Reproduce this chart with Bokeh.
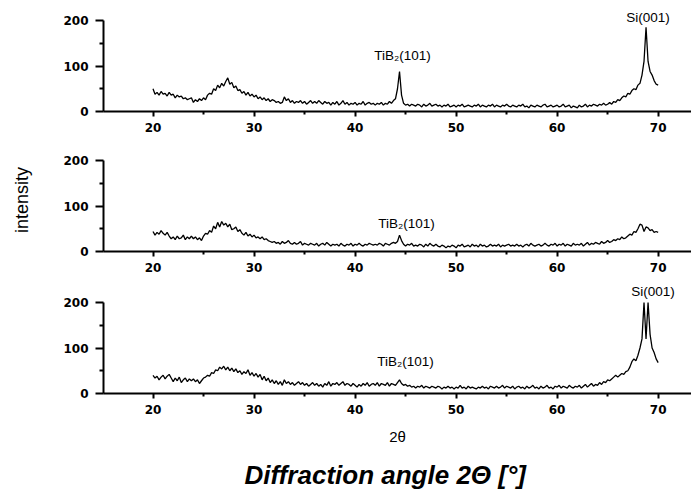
from bokeh.plotting import figure
from bokeh.models import Range1d, FixedTicker, Title
from bokeh.layouts import column
from bokeh.embed import file_html
from bokeh.resources import INLINE
from bokeh.core.properties import value

# 2-theta sampling positions (deg), 20.0 .. 70.0 in 0.2 steps
two_theta = [round(20 + 0.2 * i, 1) for i in range(251)]

# Top sample
intensity_top = [
    50, 38, 42, 36, 44, 38, 40, 34, 42, 36,
    38, 30, 36, 32, 34, 28, 30, 26, 28, 30,
    20, 26, 22, 28, 24, 30, 26, 36, 40, 38,
    50, 46, 58, 52, 62, 56, 66, 74, 60, 64,
    52, 56, 46, 48, 40, 44, 36, 42, 34, 38,
    32, 36, 28, 32, 26, 30, 24, 28, 22, 26,
    24, 20, 22, 18, 20, 32, 24, 28, 20, 24,
    18, 22, 20, 24, 18, 22, 16, 20, 24, 18,
    22, 18, 24, 20, 16, 22, 18, 20, 14, 20,
    16, 22, 14, 18, 24, 16, 20, 14, 18, 16,
    20, 14, 18, 16, 22, 14, 18, 20, 16, 18,
    14, 18, 16, 20, 14, 18, 16, 22, 18, 24,
    28, 50, 88, 36, 18, 14, 16, 12, 16, 14,
    12, 16, 14, 10, 16, 12, 14, 18, 12, 14,
    16, 12, 14, 10, 14, 12, 16, 10, 12, 14,
    10, 14, 12, 16, 10, 12, 14, 12, 10, 14,
    12, 16, 10, 14, 12, 10, 14, 12, 16, 10,
    14, 12, 10, 14, 12, 16, 12, 10, 14, 12,
    10, 14, 12, 16, 10, 12, 8, 14, 12, 10,
    14, 12, 10, 14, 16, 10, 12, 14, 10, 12,
    14, 10, 12, 16, 10, 12, 14, 8, 12, 10,
    8, 14, 10, 12, 16, 10, 14, 12, 16, 14,
    12, 16, 14, 18, 14, 16, 20, 16, 22, 20,
    26, 24, 30, 34, 32, 40, 38, 46, 50, 48,
    58, 62, 80, 110, 185, 110, 88, 80, 68, 60,
    58,
]

# Middle sample
intensity_mid = [
    44, 36, 42, 38, 46, 40, 36, 42, 34, 28,
    32, 26, 34, 28, 30, 36, 26, 32, 28, 34,
    28, 32, 26, 30, 24, 34, 40, 38, 46, 42,
    56, 50, 64, 54, 66, 58, 62, 54, 60, 48,
    50, 54, 44, 48, 40, 36, 42, 34, 38, 32,
    36, 30, 32, 28, 32, 26, 28, 24, 22, 20,
    22, 18, 20, 16, 22, 18, 20, 24, 18, 16,
    20, 16, 18, 22, 14, 18, 16, 14, 18, 16,
    14, 18, 12, 16, 18, 14, 20, 16, 12, 16,
    14, 16, 12, 18, 14, 12, 16, 14, 18, 12,
    16, 14, 18, 14, 12, 16, 14, 18, 16, 14,
    16, 14, 18, 16, 12, 18, 16, 14, 18, 20,
    18, 22, 36, 24, 16, 12, 16, 14, 18, 12,
    14, 12, 16, 14, 10, 16, 12, 18, 14, 12,
    16, 12, 10, 14, 12, 8, 12, 10, 14, 12,
    8, 14, 12, 16, 10, 12, 14, 10, 16, 12,
    14, 10, 16, 12, 14, 10, 12, 16, 12, 14,
    12, 16, 10, 14, 12, 14, 16, 12, 14, 12,
    16, 12, 14, 10, 14, 16, 12, 18, 14, 12,
    14, 16, 12, 14, 18, 14, 12, 16, 14, 18,
    12, 16, 14, 18, 12, 16, 14, 12, 18, 14,
    16, 14, 18, 12, 16, 20, 14, 18, 16, 20,
    18, 16, 22, 18, 20, 24, 20, 22, 26, 24,
    28, 26, 32, 28, 30, 34, 38, 36, 44, 42,
    50, 60, 58, 44, 54, 52, 46, 48, 42, 44,
    42,
]

# Bottom sample
intensity_bot = [
    40, 34, 38, 30, 36, 40, 32, 38, 42, 34,
    26, 34, 28, 36, 24, 30, 34, 26, 32, 28,
    32, 26, 30, 22, 28, 34, 36, 40, 38, 46,
    44, 52, 50, 58, 54, 60, 52, 58, 50, 56,
    48, 54, 46, 50, 42, 48, 44, 52, 40, 46,
    38, 44, 36, 42, 30, 38, 28, 34, 24, 30,
    22, 28, 20, 26, 18, 30, 22, 26, 20, 24,
    18, 22, 26, 20, 24, 18, 22, 16, 20, 24,
    18, 22, 16, 20, 14, 22, 18, 26, 16, 22,
    20, 24, 18, 22, 26, 18, 22, 20, 16, 22,
    18, 14, 20, 16, 22, 18, 24, 16, 20, 22,
    18, 24, 16, 22, 20, 18, 24, 16, 22, 20,
    18, 24, 30, 22, 18, 20, 16, 18, 14, 16,
    12, 16, 14, 18, 12, 16, 14, 12, 16, 14,
    12, 16, 14, 10, 14, 12, 16, 12, 14, 10,
    14, 12, 18, 12, 14, 10, 16, 12, 14, 12,
    10, 14, 12, 16, 12, 14, 10, 16, 14, 12,
    16, 12, 14, 18, 12, 16, 14, 12, 16, 10,
    14, 16, 12, 14, 10, 16, 12, 14, 18, 12,
    14, 10, 16, 12, 14, 18, 12, 14, 10, 16,
    14, 18, 12, 16, 14, 12, 18, 14, 12, 16,
    14, 18, 12, 16, 20, 14, 18, 22, 16, 20,
    18, 24, 20, 26, 24, 30, 28, 32, 36, 40,
    36, 40, 44, 42, 48, 50, 58, 70, 76, 72,
    84, 100, 120, 200, 120, 200, 130, 100, 90, 76,
    68,
]

x_ticks = [20, 30, 40, 50, 60, 70]
x_minor = [25, 35, 45, 55, 65]
y_ticks = [0, 100, 200]
y_minor = [50, 150]

peak_labels_top = {"x": [44.7, 69.0], "y": [123, 207], "text": ["TiB₂(101)", "Si(001)"]}
peak_labels_mid = {"x": [45.1], "y": [62], "text": ["TiB₂(101)"]}
peak_labels_bot = {"x": [45.0, 69.5], "y": [70, 224], "text": ["TiB₂(101)", "Si(001)"]}

PX_PER_UNIT = 91 / 200.0
FONT = "Liberation Sans"


def make_panel(ys, labels, height, top, bottom, frame_h):
    p = figure(width=691, height=height,
               x_range=Range1d(15.1, 73.3),
               y_range=Range1d(0, frame_h / PX_PER_UNIT),
               output_backend="svg", toolbar_location=None,
               min_border_left=103, min_border_right=0,
               min_border_top=top, min_border_bottom=bottom)
    p.line(two_theta, ys, line_color="black", line_width=1.3)
    p.text(x=labels["x"], y=labels["y"], text=labels["text"],
           text_font=value(FONT), text_font_size="13.5px",
           text_align="center", text_baseline="middle", text_color="black")
    p.xgrid.visible = False
    p.ygrid.visible = False
    p.outline_line_color = None
    p.background_fill_color = "white"
    p.border_fill_color = "white"

    xa = p.xaxis[0]
    xa.ticker = FixedTicker(ticks=x_ticks, minor_ticks=x_minor)
    xa.axis_line_width = 2
    xa.axis_line_color = "black"
    xa.major_tick_in = 0
    xa.major_tick_out = 5
    xa.major_tick_line_width = 2
    xa.major_tick_line_color = "black"
    xa.minor_tick_in = 0
    xa.minor_tick_out = 3
    xa.minor_tick_line_width = 2
    xa.minor_tick_line_color = "black"
    xa.major_label_text_font = "DejaVu Sans"
    xa.major_label_text_font_style = "bold"
    xa.major_label_text_font_size = "12px"
    xa.major_label_text_color = "black"
    xa.major_label_standoff = 6

    ya = p.yaxis[0]
    ya.ticker = FixedTicker(ticks=y_ticks, minor_ticks=y_minor)
    ya.bounds = (0, 200)
    ya.axis_line_width = 2
    ya.axis_line_color = "black"
    ya.major_tick_in = 0
    ya.major_tick_out = 8
    ya.major_tick_line_width = 2
    ya.major_tick_line_color = "black"
    ya.minor_tick_in = 0
    ya.minor_tick_out = 4
    ya.minor_tick_line_width = 2
    ya.minor_tick_line_color = "black"
    ya.major_label_text_font = "DejaVu Sans"
    ya.major_label_text_font_style = "bold"
    ya.major_label_text_font_size = "12px"
    ya.major_label_text_color = "black"
    ya.major_label_standoff = 7
    return p


p1 = make_panel(intensity_top, peak_labels_top, 141, 8, 30, 103)
p2 = make_panel(intensity_mid, peak_labels_mid, 140, 7, 30, 103)
p3 = make_panel(intensity_bot, peak_labels_bot, 220, 2, 108, 110)

p2.yaxis[0].axis_label = "intensity"
p2.yaxis[0].axis_label_text_font = FONT
p2.yaxis[0].axis_label_text_font_style = "normal"
p2.yaxis[0].axis_label_text_font_size = "18px"
p2.yaxis[0].axis_label_text_color = "black"
p2.yaxis[0].axis_label_standoff = 28

p3.xaxis[0].axis_label = "2θ"
p3.xaxis[0].axis_label_text_font = FONT
p3.xaxis[0].axis_label_text_font_style = "normal"
p3.xaxis[0].axis_label_text_font_size = "15px"
p3.xaxis[0].axis_label_text_color = "black"
p3.xaxis[0].axis_label_standoff = 11

p3.add_layout(Title(text="Diffraction angle 2Θ [°]", text_font=FONT,
                    text_font_style="bold italic", text_font_size="26px",
                    text_color="black",
                    align="left", offset=141, standoff=20), "below")

layout = column(p1, p2, p3, spacing=0)
open("out.html", "w").write(file_html(layout, INLINE))
